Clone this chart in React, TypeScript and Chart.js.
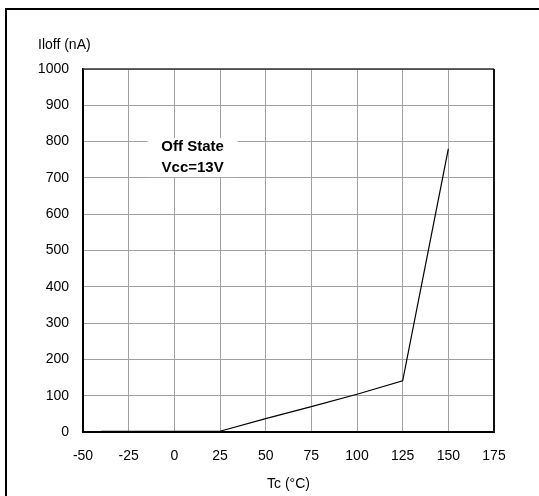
import React, { useEffect, useRef } from "react";
import { Chart, registerables } from "chart.js";

Chart.register(...registerables);

// Data
const temps = [-40, 25, 50, 75, 100, 125, 150];
const ioff = [2, 2, 37, 70, 104, 141, 780];

const xMin = -50;
const xMax = 175;
const xStep = 25;
const yMin = 0;
const yMax = 1000;
const yStep = 100;

const yAxisLabel = "Iloff (nA)";
const xAxisLabel = "Tc (°C)";
const noteLines = ["Off State", "Vcc=13V"];
const noteX = 10;
const noteY = 756;

const FONT = '"Liberation Sans", Arial, Helvetica, sans-serif';

const framePlugin = {
  id: "frame",
  afterDraw(chart: any) {
    const { ctx, chartArea: a, scales } = chart;
    ctx.save();
    // top edge
    ctx.strokeStyle = "#333";
    ctx.lineWidth = 1.5;
    ctx.beginPath();
    ctx.moveTo(a.left, a.top);
    ctx.lineTo(a.right, a.top);
    ctx.stroke();
    // right edge
    ctx.strokeStyle = "#111";
    ctx.lineWidth = 2;
    ctx.beginPath();
    ctx.moveTo(a.right, a.top);
    ctx.lineTo(a.right, a.bottom + 1);
    ctx.stroke();

    // annotation box
    const cx = scales.x.getPixelForValue(noteX);
    const cy = scales.y.getPixelForValue(noteY);
    ctx.fillStyle = "#fff";
    ctx.fillRect(cx - 45, cy - 19.5, 90, 39);
    ctx.fillStyle = "#000";
    ctx.font = `bold 15px ${FONT}`;
    ctx.textAlign = "center";
    ctx.textBaseline = "middle";
    ctx.fillText(noteLines[0], cx, cy - 10.5);
    ctx.fillText(noteLines[1], cx, cy + 10.5);

    // y axis label (horizontal, above axis)
    ctx.font = `14px ${FONT}`;
    ctx.textAlign = "left";
    ctx.fillText(yAxisLabel, a.left - 45, a.top - 24);
    ctx.restore();
  },
};

export default function App() {
  const ref = useRef<HTMLCanvasElement | null>(null);

  useEffect(() => {
    if (!ref.current) return;
    const chart = new Chart(ref.current, {
      type: "line",
      data: {
        datasets: [
          {
            data: temps.map((t, i) => ({ x: t, y: ioff[i] })),
            borderColor: "#000",
            borderWidth: 1.2,
            pointRadius: 0,
            tension: 0,
            fill: false,
          },
        ],
      },
      options: {
        responsive: false,
        animation: false,
        devicePixelRatio: 1,
        layout: { padding: { top: 69, right: 45, left: 0, bottom: 0 } },
        plugins: {
          legend: { display: false },
          tooltip: { enabled: false },
          title: { display: false },
        },
        scales: {
          x: {
            type: "linear",
            min: xMin,
            max: xMax,
            ticks: {
              stepSize: xStep,
              color: "#000",
              font: { family: FONT, size: 14 },
              padding: 16,
              callback: (v: any) => String(v),
            },
            grid: { color: "#a0a0a0", lineWidth: 1, drawTicks: false },
            border: { color: "#000", width: 2 },
            title: {
              display: true,
              text: xAxisLabel,
              color: "#000",
              font: { family: FONT, size: 14 },
              padding: { top: 0, bottom: 3 },
            },
            afterFit(scale: any) {
              scale.height = 64;
            },
          },
          y: {
            type: "linear",
            min: yMin,
            max: yMax,
            ticks: {
              stepSize: yStep,
              color: "#000",
              font: { family: FONT, size: 14 },
              padding: 14,
              callback: (v: any) => String(v),
            },
            grid: { color: "#a0a0a0", lineWidth: 1, drawTicks: false },
            border: { color: "#000", width: 2 },
            afterFit(scale: any) {
              scale.width = 83;
            },
          },
        },
      },
      plugins: [framePlugin],
    } as any);
    return () => chart.destroy();
  }, []);

  return (
    <div
      style={{
        position: "fixed",
        left: 0,
        top: 0,
        width: 539,
        height: 496,
        background: "#fff",
        overflow: "hidden",
      }}
    >
      <canvas
        ref={ref}
        width={539}
        height={496}
        style={{ position: "absolute", left: 0, top: 0, width: 539, height: 496 }}
      />
      <div
        style={{
          position: "absolute",
          left: 5,
          top: 8,
          width: 540,
          height: 500,
          borderTop: "2px solid #000",
          borderLeft: "2px solid #000",
          pointerEvents: "none",
        }}
      />
    </div>
  );
}
